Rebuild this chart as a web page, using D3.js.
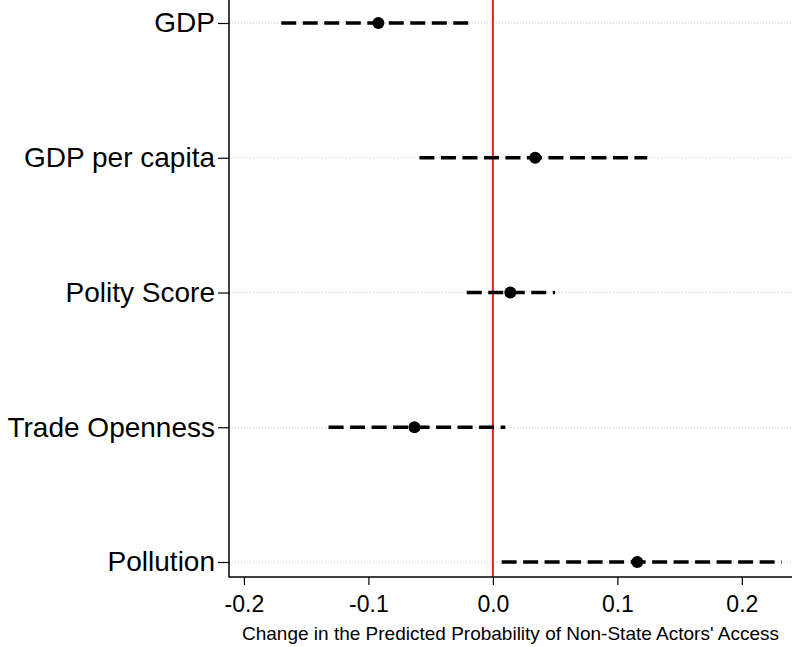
<!DOCTYPE html>
<html>
<head>
<meta charset="utf-8">
<script src="https://cdn.jsdelivr.net/npm/d3@7"></script>
<style>
  body { margin: 0; background: #fff; }
  svg { display: block; font-family: "Liberation Sans", Arial, sans-serif; }
</style>
</head>
<body>
<svg id="chart" width="792" height="647"></svg>
<script>
const categories = ["GDP", "GDP per capita", "Polity Score", "Trade Openness", "Pollution"];
const estimates = [-0.092, 0.034, 0.014, -0.063, 0.116];
const lowerBounds = [-0.170, -0.059, -0.021, -0.132, 0.007];
const upperBounds = [-0.016, 0.124, 0.050, 0.010, 0.232];
const xTicks = [-0.2, -0.1, 0.0, 0.1, 0.2];
const xLabel = "Change in the Predicted Probability of Non-State Actors' Access";

const width = 792;
const height = 647;
const left = 229;
const bottom = 577;

const svg = d3.select("#chart");

let data = categories.map((c, i) => ({
  name: c,
  est: estimates[i],
  lo: lowerBounds[i],
  hi: upperBounds[i],
}));

let xScale = d3.scaleLinear().domain([-0.212, 0.2403]).range([left, width]);
let yScale = d3.scalePoint().domain(categories).range([23, 562]);

// dotted guide lines
svg.append("g")
  .selectAll("line")
  .data(data)
  .enter()
  .append("line")
  .attr("x1", left)
  .attr("x2", width)
  .attr("y1", (d) => yScale(d.name))
  .attr("y2", (d) => yScale(d.name))
  .attr("stroke", "#c8c8c8")
  .attr("stroke-width", 1)
  .attr("stroke-dasharray", "1,2");

// zero line
svg.append("line")
  .attr("x1", xScale(0))
  .attr("x2", xScale(0))
  .attr("y1", 0)
  .attr("y2", bottom)
  .attr("stroke", "#ee1c1c")
  .attr("stroke-width", 2);

// confidence intervals
svg.append("g")
  .selectAll("line")
  .data(data)
  .enter()
  .append("line")
  .attr("x1", (d) => xScale(d.lo))
  .attr("x2", (d) => xScale(d.hi))
  .attr("y1", (d) => yScale(d.name))
  .attr("y2", (d) => yScale(d.name))
  .attr("stroke", "#000")
  .attr("stroke-width", 3.5)
  .attr("stroke-dasharray", "15,6.5");

// point estimates
svg.append("g")
  .selectAll("circle")
  .data(data)
  .enter()
  .append("circle")
  .attr("cx", (d) => xScale(d.est))
  .attr("cy", (d) => yScale(d.name))
  .attr("r", 6)
  .attr("fill", "#000");

// axes
let xAxis = d3.axisBottom(xScale)
  .tickValues(xTicks)
  .tickFormat((d) => d.toFixed(1))
  .tickSize(8)
  .tickPadding(11);

let yAxis = d3.axisLeft(yScale).tickSize(11).tickPadding(3);

let gx = svg.append("g")
  .attr("transform", "translate(0," + bottom + ")")
  .call(xAxis);
gx.select(".domain").remove();
gx.selectAll("text")
  .attr("font-size", 23)
  .attr("font-family", "Liberation Sans, Arial, sans-serif")
  .attr("fill", "#000");
gx.selectAll("line").attr("stroke", "#000").attr("stroke-width", 1.2);

let gy = svg.append("g")
  .attr("transform", "translate(" + left + ",0)")
  .call(yAxis);
gy.select(".domain").remove();
gy.selectAll("text")
  .attr("font-size", 28)
  .attr("font-family", "Liberation Sans, Arial, sans-serif")
  .attr("fill", "#000");
gy.selectAll("line").attr("stroke", "#000").attr("stroke-width", 1.2);

// axis frame lines
svg.append("line")
  .attr("x1", left).attr("x2", left)
  .attr("y1", 0).attr("y2", bottom + 0.5)
  .attr("stroke", "#000").attr("stroke-width", 1.5);
svg.append("line")
  .attr("x1", left).attr("x2", width)
  .attr("y1", bottom).attr("y2", bottom)
  .attr("stroke", "#000").attr("stroke-width", 1.5);

// x title
svg.append("text")
  .attr("x", (left + width) / 2)
  .attr("y", 640)
  .attr("text-anchor", "middle")
  .attr("font-size", 19)
  .attr("fill", "#000")
  .text(xLabel);
</script>
</body>
</html>
